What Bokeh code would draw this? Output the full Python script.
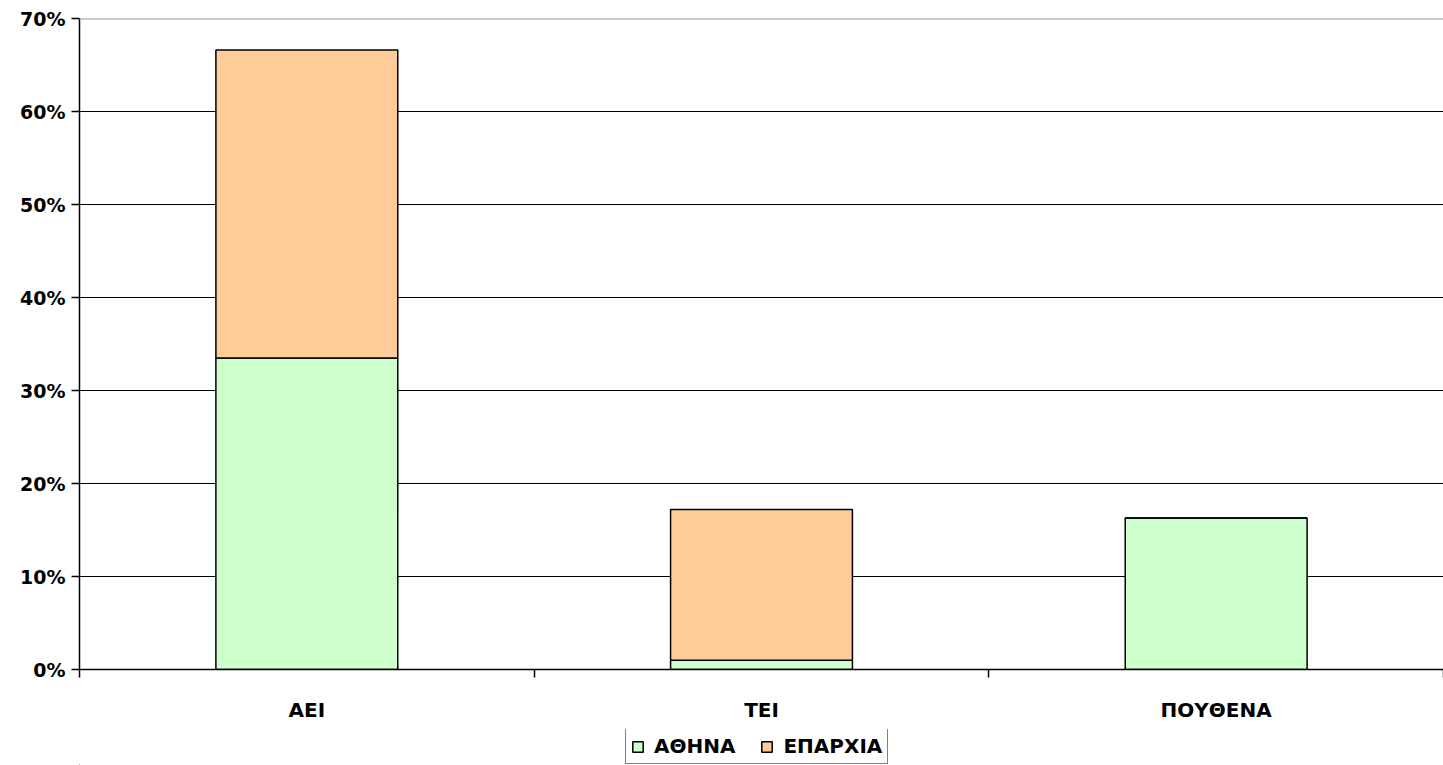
from bokeh.plotting import figure
from bokeh.layouts import column
from bokeh.models import (ColumnDataSource, FixedTicker, PrintfTickFormatter, Span, Range1d,
                          Legend, LegendItem, BoxAnnotation)
from bokeh.embed import file_html
from bokeh.resources import INLINE

categories = ["ΑΕΙ", "ΤΕΙ", "ΠΟΥΘΕΝΑ"]
athina = [33.5, 1.0, 16.3]
eparxia = [33.1, 16.2, 0.0]
series_names = ["ΑΘΗΝΑ", "ΕΠΑΡΧΙΑ"]
series_colors = ["#CCFFCC", "#FFCC99"]
y_ticks = [0, 10, 20, 30, 40, 50, 60, 70]

FONT = "DejaVu Sans"

x_pos = [i + 0.5 for i in range(len(categories))]
source = ColumnDataSource(dict(x=x_pos, ΑΘΗΝΑ=athina, ΕΠΑΡΧΙΑ=eparxia))

p = figure(width=1443, height=729, output_backend="svg", toolbar_location=None,
           x_range=Range1d(0, len(categories)), y_range=Range1d(0, 70),
           min_border_left=79, min_border_right=0, min_border_top=18, min_border_bottom=60)
p.outline_line_color = None
p.background_fill_color = "white"

p.vbar_stack(series_names, x="x", width=0.4, source=source, color=series_colors,
             line_color="black", line_width=1.5)

# axes
p.yaxis.ticker = FixedTicker(ticks=y_ticks)
p.yaxis.formatter = PrintfTickFormatter(format="%d%%")
p.yaxis.major_tick_out = 8
p.yaxis.major_tick_in = 0
p.yaxis.minor_tick_line_color = None
p.yaxis.axis_line_color = "black"
p.yaxis.axis_line_width = 1.5
p.yaxis.major_tick_line_width = 1.5
p.yaxis.major_label_text_font = FONT
p.yaxis.major_label_text_font_style = "bold"
p.yaxis.major_label_text_font_size = "19px"
p.yaxis.major_label_text_color = "black"
p.yaxis.major_label_standoff = 6

p.xaxis.ticker = FixedTicker(ticks=x_pos, minor_ticks=list(range(len(categories) + 1)))
p.xaxis.major_label_overrides = {x: c for x, c in zip(x_pos, categories)}
p.xaxis.major_tick_out = 0
p.xaxis.major_tick_in = 0
p.xaxis.major_tick_line_color = None
p.xaxis.minor_tick_out = 8
p.xaxis.minor_tick_in = 0
p.xaxis.minor_tick_line_color = "black"
p.xaxis.minor_tick_line_width = 1.5
p.xaxis.axis_line_color = "black"
p.xaxis.axis_line_width = 1.5
p.xaxis.major_label_text_font = FONT
p.xaxis.major_label_text_font_style = "bold"
p.xaxis.major_label_text_font_size = "20px"
p.xaxis.major_label_text_color = "black"
p.xaxis.major_label_standoff = 20

# grid
p.xgrid.grid_line_color = None
p.ygrid.ticker = FixedTicker(ticks=y_ticks[:-1])
p.ygrid.grid_line_color = "black"
p.ygrid.grid_line_width = 1
p.add_layout(Span(location=y_ticks[-1], dimension="width", line_color="#999999", line_width=2))

# legend strip below the chart (its bars lie outside this strip's visible ranges)
p2 = figure(width=1443, height=36, output_backend="svg", toolbar_location=None,
            x_axis_type=None, y_axis_type=None, x_range=Range1d(1000, 1001),
            y_range=Range1d(1000, 1001),
            min_border_left=0, min_border_right=0, min_border_top=0, min_border_bottom=0)
p2.outline_line_color = None
p2.xgrid.grid_line_color = None
p2.ygrid.grid_line_color = None
rs = p2.vbar_stack(series_names, x="x", width=0.4, source=source, color=series_colors,
                   line_color="black", line_width=1.5)
p2.add_layout(BoxAnnotation(fill_color="white", fill_alpha=1, line_color=None))
items = [LegendItem(label=n, renderers=[r]) for n, r in zip(series_names, rs)]
lg = Legend(items=items, orientation="horizontal", location=(546, 1))
lg.border_line_color = "black"
lg.border_line_width = 1.5
lg.background_fill_color = "white"
lg.background_fill_alpha = 1
lg.glyph_width = 13
lg.glyph_height = 13
lg.label_standoff = 10
lg.spacing = 25
lg.padding = 5
lg.margin = 0
lg.label_text_font = FONT
lg.label_text_font_style = "bold"
lg.label_text_font_size = "20px"
lg.label_text_color = "black"
lg.label_text_baseline = "middle"
p2.add_layout(lg)

layout = column(p, p2, spacing=0)
open("out.html", "w").write(file_html(layout, INLINE))
